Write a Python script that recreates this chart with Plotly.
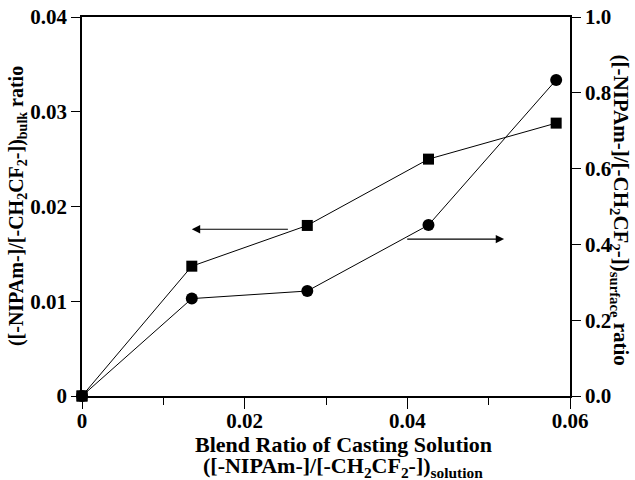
import plotly.graph_objects as go

# Data
x_blend = [0.0, 0.0135, 0.0277, 0.0426, 0.0583]
bulk_ratio = [0.0, 0.0137, 0.0180, 0.0250, 0.0288]
surface_ratio = [0.0, 0.257, 0.277, 0.451, 0.834]

x_ticks = [0, 0.02, 0.04, 0.06]
x_ticktext = ["0", "0.02", "0.04", "0.06"]
y1_ticks = [0, 0.01, 0.02, 0.03, 0.04]
y1_ticktext = ["0", "0.01", "0.02", "0.03", "0.04"]
y2_ticks = [0.0, 0.2, 0.4, 0.6, 0.8, 1.0]
y2_ticktext = ["0.0", "0.2", "0.4", "0.6", "0.8", "1.0"]

FONT = "Liberation Serif"
tickfont = dict(family=FONT, size=21, color="black", weight="bold")

fig = go.Figure()
fig.add_trace(go.Scatter(
    x=x_blend, y=bulk_ratio, mode="lines+markers",
    line=dict(color="black", width=1),
    marker=dict(symbol="square", size=11, color="black"),
    yaxis="y", showlegend=False, cliponaxis=False))
fig.add_trace(go.Scatter(
    x=x_blend, y=surface_ratio, mode="lines+markers",
    line=dict(color="black", width=1),
    marker=dict(symbol="circle", size=12, color="black"),
    yaxis="y2", showlegend=False, cliponaxis=False))
# redraw origin square on top
fig.add_trace(go.Scatter(
    x=x_blend[:1], y=bulk_ratio[:1], mode="markers",
    marker=dict(symbol="square", size=11, color="black"),
    yaxis="y", showlegend=False, cliponaxis=False))

fig.update_layout(
    width=635, height=480,
    margin=dict(l=82, r=65, t=17, b=84),
    paper_bgcolor="white", plot_bgcolor="white",
    font=dict(family=FONT, color="black"),
    xaxis=dict(range=[0, 0.06], tickvals=x_ticks, ticktext=x_ticktext,
               ticks="outside", ticklen=11, tickwidth=1, tickcolor="black",
               ticklabelstandoff=-6,
               showline=True, linecolor="black", linewidth=1.5, mirror=True,
               showgrid=False, zeroline=False, tickfont=tickfont, automargin=False,
               minor=dict(dtick=0.01, tick0=0, ticks="outside", ticklen=7,
                          tickcolor="black", tickwidth=1, showgrid=False)),
    yaxis=dict(range=[0, 0.04], tickvals=y1_ticks, ticktext=y1_ticktext,
               ticks="outside", ticklen=9, tickwidth=1, tickcolor="black",
               showline=True, linecolor="black", linewidth=1.5, automargin=False,
               showgrid=False, zeroline=False, tickfont=tickfont),
    yaxis2=dict(range=[0, 1.0], tickvals=y2_ticks, ticktext=y2_ticktext,
                overlaying="y", side="right", automargin=False,
                ticks="outside", ticklen=9, tickwidth=1, tickcolor="black",
                showline=True, linecolor="black", linewidth=1.5,
                showgrid=False, zeroline=False, tickfont=tickfont),
)

title_font = dict(family=FONT, size=22, color="black", weight="bold")
fig.add_annotation(
    text="Blend Ratio of Casting Solution",
    xref="paper", yref="paper", x=0.535, y=-0.128, yanchor="middle",
    showarrow=False, font=title_font)
fig.add_annotation(
    text="([-NIPAm-]/[-CH<sub>2</sub>CF<sub>2</sub>-])<sub>solution</sub>",
    xref="paper", yref="paper", x=0.535, y=-0.188, yanchor="middle",
    showarrow=False, font=title_font)
fig.add_annotation(
    text="([-NIPAm-]/[-CH<sub>2</sub>CF<sub>2</sub>-])<sub>bulk</sub> ratio",
    xref="paper", yref="paper", x=-0.132, y=0.5, xanchor="center", yanchor="middle",
    textangle=-90, showarrow=False,
    font=dict(family=FONT, size=20, color="black", weight="bold"))
fig.add_annotation(
    text="([-NIPAm-]/[-CH<sub>2</sub>CF<sub>2</sub>-])<sub>surface</sub> ratio",
    xref="paper", yref="paper", x=1.102, y=0.49, xanchor="center", yanchor="middle",
    textangle=90, showarrow=False,
    font=dict(family=FONT, size=21, color="black", weight="bold"))

# Arrows indicating which axis each series belongs to
fig.add_annotation(
    x=0.0135, y=0.0176, ax=0.0255, ay=0.0176,
    xref="x", yref="y", axref="x", ayref="y",
    showarrow=True, arrowhead=2, arrowsize=1.4, arrowwidth=1.2, arrowcolor="black", text="")
fig.add_annotation(
    x=0.0519, y=0.414, ax=0.0398, ay=0.414,
    xref="x", yref="y2", axref="x", ayref="y2",
    showarrow=True, arrowhead=2, arrowsize=1.4, arrowwidth=1.2, arrowcolor="black", text="")

fig.write_html("out.html", config={"displayModeBar": False},
               post_script="document.body.style.margin='0';document.body.style.padding='0';")
